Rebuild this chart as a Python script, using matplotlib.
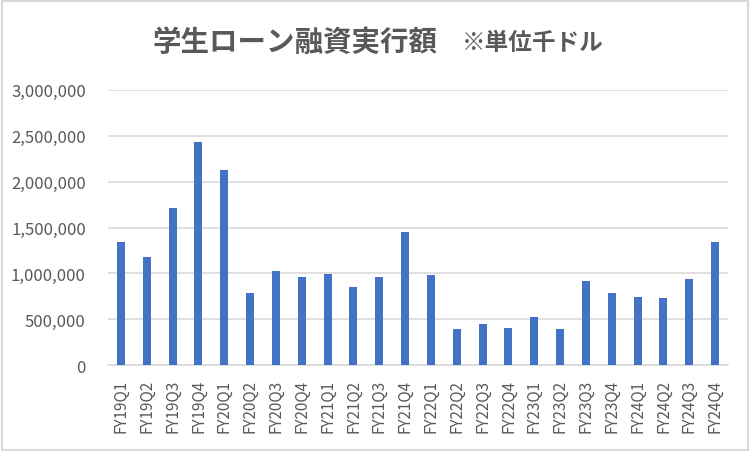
import matplotlib
matplotlib.use("Agg")
import matplotlib.pyplot as plt
from matplotlib.ticker import FuncFormatter
from matplotlib.patches import Rectangle

plt.rcParams['font.family'] = ['Noto Sans CJK JP', 'DejaVu Sans']

quarters = ["FY19Q1", "FY19Q2", "FY19Q3", "FY19Q4", "FY20Q1", "FY20Q2",
            "FY20Q3", "FY20Q4", "FY21Q1", "FY21Q2", "FY21Q3", "FY21Q4",
            "FY22Q1", "FY22Q2", "FY22Q3", "FY22Q4", "FY23Q1", "FY23Q2",
            "FY23Q3", "FY23Q4", "FY24Q1", "FY24Q2", "FY24Q3", "FY24Q4"]
amounts = [1342000, 1179000, 1712000, 2430000, 2129000, 787000,
           1026000, 961000, 994000, 852000, 961000, 1451000,
           983000, 395000, 450000, 406000, 526000, 395000,
           918000, 787000, 744000, 733000, 939000, 1342000]

text_color = "#595959"
grid_color = "#d9d9d9"

fig = plt.figure(figsize=(7.52, 4.52), dpi=100)
ax = fig.add_axes([0.1436, 0.1896, 0.8245, 0.6094])

x = range(len(quarters))
ax.bar(x, amounts, width=0.31, color="#4472C4", zorder=3)

ax.set_xlim(-0.5, len(quarters) - 0.5)
ax.set_ylim(0, 3000000)
ax.set_yticks(range(0, 3000001, 500000))
ax.yaxis.set_major_formatter(FuncFormatter(lambda v, p: f"{int(v):,}"))
ax.set_xticks(list(x))
ax.set_xticklabels(quarters, rotation=90)

ax.grid(axis="y", color=grid_color, linewidth=1.2, zorder=0)
for s in ["top", "right", "left"]:
    ax.spines[s].set_visible(False)
ax.spines["bottom"].set_color(grid_color)
ax.spines["bottom"].set_linewidth(1.2)
ax.tick_params(axis="both", length=0, colors=text_color)
ax.tick_params(axis="y", pad=16, labelsize=12)
ax.tick_params(axis="x", pad=10, labelsize=11)

fig.text(0.392, 0.905, "学生ローン融資実行額", ha="center", va="center",
         fontsize=20.5, fontweight="bold", color=text_color)
fig.text(0.708, 0.905, "※単位千ドル", ha="center", va="center",
         fontsize=17, fontweight="bold", color=text_color)

fig.patches.append(Rectangle((0.002, 0.003), 0.993, 0.992, transform=fig.transFigure,
                             fill=False, edgecolor=grid_color, linewidth=1.5))

fig.savefig("out.png", dpi=100)
